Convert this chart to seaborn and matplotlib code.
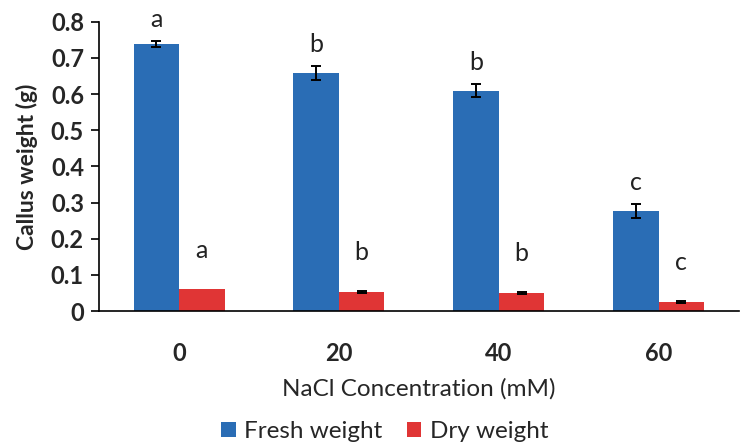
import numpy as np
import pandas as pd
import matplotlib
matplotlib.use("Agg")
import matplotlib.pyplot as plt
import seaborn as sns
from matplotlib.patches import Patch

concentrations = ["0", "20", "40", "60"]
fresh_weight = [0.738, 0.659, 0.610, 0.277]
fresh_err = [0.008, 0.019, 0.019, 0.020]
dry_weight = [0.060, 0.053, 0.050, 0.024]
dry_err = [0.000, 0.002, 0.003, 0.003]
fresh_letters = ["a", "b", "b", "c"]
dry_letters = ["a", "b", "b", "c"]
series = ["Fresh weight", "Dry weight"]
colors = ["#2a6db5", "#e03535"]

sns.set_theme(style="white")
plt.rcParams['font.family'] = ['Lato', 'DejaVu Sans']

df = pd.DataFrame({
    "conc": concentrations * 2,
    "value": fresh_weight + dry_weight,
    "err": fresh_err + dry_err,
    "series": [series[0]] * 4 + [series[1]] * 4,
})

fig = plt.figure(figsize=(7.4, 4.45), dpi=100)
ax = fig.add_axes([0.134, 0.301, 0.864, 0.650])
sns.barplot(data=df, x="conc", y="value", hue="series", order=concentrations,
            hue_order=series, palette=colors, width=0.57, errorbar=None,
            saturation=1, ax=ax, legend=False, linewidth=0)

for s_i, (vals, errs, letters, extra) in enumerate(
        [(fresh_weight, fresh_err, fresh_letters, 0.028),
         (dry_weight, dry_err, dry_letters, 0.075)]):
    cont = ax.containers[s_i]
    for i, bar in enumerate(cont.patches):
        cx = bar.get_x() + bar.get_width() / 2
        v, e = vals[i], errs[i]
        if e > 0:
            ax.errorbar(cx, v, yerr=e, fmt="none", ecolor="black",
                        elinewidth=1.4, capsize=3.5, capthick=1.4)
        ax.text(cx, v + e + extra, letters[i], ha="center", va="bottom",
                fontsize=18, color="#222222")

ax.set_ylim(0, 0.8)
ax.set_xlim(-0.5, 3.5)
ax.set_yticks(np.arange(0, 0.81, 0.1))
ax.set_yticklabels(["0"] + [f"{t:.1f}" for t in np.arange(0.1, 0.81, 0.1)],
                   fontsize=17, fontweight="bold")
ax.set_xticks(range(4))
ax.set_xticklabels(concentrations, fontsize=17, fontweight="bold")
ax.set_xticks([-0.5, 0.5, 1.5, 2.5, 3.5], minor=True)
ax.tick_params(axis="x", which="major", length=0, pad=22)
ax.tick_params(axis="x", which="minor", length=6, width=1.2, direction="out", color="black")
ax.tick_params(axis="y", length=6, width=1.2, direction="out", color="black", left=True, pad=5)
for sp in ["top", "right"]:
    ax.spines[sp].set_visible(False)
for sp in ["left", "bottom"]:
    ax.spines[sp].set_color("black")
    ax.spines[sp].set_linewidth(1.2)
ax.set_ylabel("Callus weight (g)", fontsize=16.5, fontweight="bold", labelpad=9)
ax.set_xlabel("NaCl Concentration (mM)", fontsize=17.5, labelpad=10)

handles = [Patch(facecolor=c, edgecolor="none", label=s) for c, s in zip(colors, series)]
fig.legend(handles=handles, loc="center", bbox_to_anchor=(0.52, 0.03), ncol=2,
           frameon=False, fontsize=17.5, handlelength=0.6, handleheight=0.6,
           handletextpad=0.35, columnspacing=1.0, borderpad=0.1)

fig.savefig("out.png", dpi=100)
